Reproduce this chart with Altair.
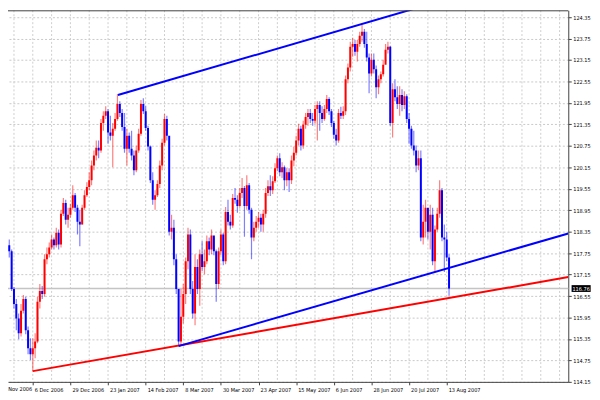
import altair as alt
import pandas as pd

# ---------------- data (daily bars, index = trading day from 14 Nov 2006)
first_bar = 2
first_open = 117.85
close = [
    118.19, 117.91, 118.13, 117.97, 117.80, 116.75, 116.33, 115.92, 115.51, 116.14,
    116.47, 115.59, 115.09, 114.92, 115.09, 115.28, 116.39, 116.69, 116.61, 117.58,
    117.72, 117.91, 118.13, 117.97, 118.32, 117.99, 118.85, 119.15, 118.68, 118.82,
    119.02, 119.37, 119.02, 118.63, 118.55, 119.02, 119.37, 119.60, 119.79, 120.20,
    120.48, 120.70, 120.62, 121.39, 121.59, 121.72, 121.12, 121.03, 121.23, 121.50,
    121.92, 121.67, 121.28, 120.67, 121.03, 120.67, 120.48, 120.07, 120.62, 121.09,
    121.92, 121.72, 121.25, 120.73, 119.79, 119.24, 119.37, 119.68, 120.20, 120.84,
    121.50, 121.03, 118.35, 118.46, 117.58, 116.75, 115.28, 115.97, 116.61, 117.52,
    118.27, 116.75, 116.06, 117.36, 116.75, 117.72, 117.36, 117.52, 118.08, 117.85,
    118.24, 117.80, 116.89, 117.80, 118.27, 117.52, 118.90, 118.63, 118.52, 119.29,
    119.24, 119.07, 119.43, 119.57, 119.07, 119.65, 118.96, 118.19, 118.46, 118.63,
    118.74, 118.55, 118.85, 119.43, 119.62, 119.51, 119.76, 120.12, 120.40, 120.01,
    120.15, 119.79, 120.01, 119.79, 120.34, 120.56, 120.90, 121.23, 120.76, 121.34,
    121.56, 121.67, 121.50, 121.45, 121.78, 121.89, 121.67, 121.50, 121.78, 122.06,
    121.72, 121.39, 121.06, 120.90, 121.67, 121.59, 121.72, 122.61, 122.94, 123.52,
    123.60, 123.38, 123.60, 123.83, 123.94, 123.60, 123.22, 122.77, 123.16, 122.89,
    122.39, 122.61, 122.75, 123.02, 123.44, 123.52, 121.39, 122.33, 122.11, 121.92,
    122.17, 121.89, 122.14, 121.50, 121.23, 120.76, 120.62, 120.20, 120.40, 118.19,
    118.63, 119.02, 118.35, 118.82, 117.52, 118.41, 118.85, 119.51, 118.19, 118.13,
    117.63, 116.76,
]
high = [
    118.46, 118.27, 118.35, 118.24, 118.13, 117.85, 116.80, 116.47, 116.06, 116.33,
    116.58, 116.53, 115.70, 115.37, 115.37, 115.51, 116.53, 116.89, 116.83, 117.72,
    117.91, 118.05, 118.27, 118.19, 118.46, 118.41, 118.96, 119.29, 119.24, 119.02,
    119.13, 119.65, 119.43, 119.10, 118.96, 119.10, 119.51, 119.73, 120.01, 120.34,
    120.62, 120.90, 120.90, 121.50, 121.72, 121.86, 121.78, 121.59, 121.39, 121.67,
    122.19, 122.00, 121.78, 121.67, 121.23, 121.12, 121.17, 120.62, 120.76, 121.23,
    122.03, 122.08, 121.86, 121.31, 120.76, 120.01, 119.51, 119.79, 120.34, 120.95,
    121.64, 121.59, 120.90, 118.82, 118.68, 117.72, 116.75, 116.75, 116.89, 117.63,
    118.46, 118.41, 116.97, 117.72, 117.58, 117.85, 118.08, 117.85, 118.24, 118.19,
    118.41, 118.19, 117.85, 117.91, 118.41, 118.32, 119.04, 119.24, 118.82, 119.40,
    119.57, 119.37, 119.57, 119.85, 119.63, 119.93, 119.71, 119.02, 118.63, 118.79,
    118.90, 118.85, 118.96, 119.57, 119.79, 119.93, 119.90, 120.26, 120.48, 120.54,
    120.29, 120.20, 120.12, 120.12, 120.48, 120.73, 121.03, 121.37, 121.31, 121.45,
    121.67, 121.78, 121.78, 121.67, 121.89, 122.00, 122.00, 121.86, 121.89, 122.17,
    122.11, 121.78, 121.45, 121.23, 121.78, 121.84, 121.86, 122.72, 123.05, 123.66,
    123.77, 123.71, 123.71, 123.94, 124.13, 124.02, 123.94, 123.33, 123.33, 123.33,
    123.00, 122.72, 122.83, 123.16, 123.60, 123.66, 123.55, 122.50, 122.61, 122.42,
    122.42, 122.33, 122.28, 122.19, 121.67, 121.31, 121.17, 120.76, 120.62, 120.62,
    119.10, 119.24, 118.96, 119.10, 119.02, 118.52, 119.02, 119.79, 119.57, 118.55,
    118.35, 117.72,
]
low = [
    117.77, 117.72, 117.85, 117.80, 117.63, 116.69, 116.20, 115.59, 115.34, 115.42,
    116.06, 115.48, 114.92, 114.76, 114.45, 114.81, 115.23, 116.20, 116.47, 116.53,
    117.44, 117.63, 117.85, 117.85, 117.91, 117.85, 117.91, 118.79, 118.55, 118.46,
    118.74, 118.96, 118.90, 118.27, 117.94, 118.55, 118.96, 119.32, 119.51, 119.65,
    120.07, 120.34, 120.40, 120.56, 121.17, 121.50, 120.81, 120.90, 120.15, 121.17,
    121.45, 121.56, 121.17, 120.56, 120.20, 120.56, 120.34, 119.93, 120.01, 120.56,
    121.03, 121.64, 121.17, 120.62, 119.71, 119.10, 118.96, 119.32, 119.57, 120.07,
    120.76, 120.90, 118.24, 118.13, 117.41, 116.61, 115.15, 115.20, 115.78, 116.33,
    117.30, 116.61, 115.92, 115.73, 116.61, 116.28, 117.25, 117.16, 117.44, 117.69,
    117.72, 117.69, 116.39, 116.75, 117.69, 117.41, 117.44, 118.52, 118.41, 118.46,
    119.13, 118.88, 119.02, 119.29, 118.21, 118.96, 118.85, 117.58, 118.08, 118.35,
    118.46, 118.35, 118.35, 118.74, 119.35, 119.35, 119.40, 119.71, 120.04, 119.90,
    119.85, 119.51, 119.62, 119.46, 119.68, 120.18, 120.48, 120.76, 120.62, 120.67,
    121.23, 121.31, 121.39, 121.31, 121.37, 120.90, 121.17, 121.39, 121.45, 121.67,
    121.61, 121.28, 120.95, 120.76, 120.84, 121.50, 121.50, 121.61, 122.50, 122.83,
    123.24, 123.27, 123.11, 123.52, 123.66, 123.49, 123.11, 122.22, 122.69, 122.77,
    122.08, 122.19, 122.50, 122.69, 123.11, 123.33, 121.31, 120.98, 122.00, 121.78,
    121.59, 121.72, 121.78, 121.39, 120.81, 120.67, 120.48, 120.01, 120.07, 118.08,
    117.99, 118.19, 118.13, 117.85, 117.41, 117.25, 118.35, 118.74, 118.08, 117.22,
    117.52, 116.56,
]

date_tick_bars = [0, 16, 32, 48, 64, 80, 96, 112, 128, 144, 160, 176, 192]
date_tick_labels = ["14 Nov 2006", "6 Dec 2006", "29 Dec 2006", "23 Jan 2007", "14 Feb 2007",
                    "8 Mar 2007", "30 Mar 2007", "23 Apr 2007", "15 May 2007", "6 Jun 2007",
                    "28 Jun 2007", "20 Jul 2007", "13 Aug 2007"]
grid_bars = list(range(0, 248, 8))
price_ticks = [114.15, 114.75, 115.35, 115.95, 116.55, 117.15, 117.75, 118.35, 118.95,
               119.55, 120.15, 120.75, 121.35, 121.95, 122.55, 123.15, 123.75, 124.35]
last_price = 116.76

trend_x0 = [16, 78, 52.2]
trend_p0 = [114.45, 115.15, 122.17]
trend_x1 = [243.7, 243.7, 243.7]
trend_p1 = [117.08, 118.30, 125.84]
trend_colors = ["#ff0000", "#0000ff", "#0000ff"]

x_domain = [5.46, 243.7]
y_domain = [114.15, 124.54]

# ---------------- chart
W, H = 567, 376
FONT = "Liberation Sans Narrow, DejaVu Sans Condensed, Liberation Sans"
FS = 5.6
AXC = "#404040"

bars = pd.DataFrame({
    "bar": list(range(first_bar, first_bar + len(close))),
    "close": close, "high": high, "low": low,
})
bars["open"] = [first_open] + close[:-1]
bars["dir"] = ["up" if c >= o else "down" for c, o in zip(bars["close"], bars["open"])]

xs = alt.Scale(domain=x_domain, nice=False, zero=False)
ys = alt.Scale(domain=y_domain, nice=False, zero=False)
cs = alt.Scale(domain=["up", "down"], range=["#ff0000", "#0000ff"])

label_expr = "[" + ",".join("'%s'" % s for s in date_tick_labels) + "][round(datum.value/16)]"

x_axis = alt.Axis(values=date_tick_bars, labelExpr=label_expr, orient="bottom", grid=False,
                  tickSize=3, tickColor=AXC, domainColor=AXC, labelAlign="left",
                  labelBaseline="top", labelPadding=2.5, labelOffset=1.5, labelFontSize=FS,
                  labelFont=FONT, labelColor="black", labelOverlap=False, labelFlush=False,
                  title=None)
y_axis = alt.Axis(values=price_ticks, orient="right", format=".2f", grid=True,
                  gridColor="#c8c8c8", gridDash=[2, 2], gridWidth=1, tickSize=3,
                  tickColor=AXC, domainColor=AXC, labelFontSize=FS, labelFont=FONT,
                  labelColor="black", labelPadding=1.5, labelOverlap=False, labelFlush=False,
                  title=None)


def X(field):
    return alt.X(field, scale=xs, axis=x_axis)


def Y(field):
    return alt.Y(field, scale=ys, axis=y_axis)


vgrid = alt.Chart(pd.DataFrame({"bar": grid_bars})).mark_rule(
    color="#cdcdcd", strokeDash=[2, 2], strokeWidth=1, clip=True
).encode(x=X("bar:Q"), y=alt.value(0), y2=alt.value(H))

pline = alt.Chart(pd.DataFrame({"p": [last_price]})).mark_rule(
    color="#c4c4c4", strokeWidth=1.4
).encode(y=Y("p:Q"), x=alt.value(0), x2=alt.value(W))

wick = alt.Chart(bars).mark_rule(strokeWidth=1.2, opacity=0.5, clip=True).encode(
    x=X("bar:Q"), y=Y("low:Q"), y2="high:Q",
    color=alt.Color("dir:N", scale=cs, legend=None),
)
body = alt.Chart(bars).mark_rule(strokeWidth=2, clip=True).encode(
    x=X("bar:Q"), y=Y("open:Q"), y2="close:Q",
    color=alt.Color("dir:N", scale=cs, legend=None),
)

trends = []
for k in range(len(trend_x0)):
    df = pd.DataFrame({"bar": [trend_x0[k], trend_x1[k]], "p": [trend_p0[k], trend_p1[k]]})
    trends.append(
        alt.Chart(df).mark_line(color=trend_colors[k], strokeWidth=2, clip=True).encode(
            x=X("bar:Q"), y=Y("p:Q")
        )
    )

# first date label lies left of the visible range; as in the reference only its tail shows
first_lbl = alt.Chart(pd.DataFrame({"bar": [date_tick_bars[0]], "t": [date_tick_labels[0]]})).mark_text(
    fontSize=FS, font=FONT, color="black", align="left", baseline="top", dx=5.3
).encode(x=X("bar:Q"), y=alt.value(H + 5.5), text="t:N")

lp = pd.DataFrame({"p": [last_price], "t": ["%.2f" % last_price]})
box = alt.Chart(lp).mark_point(
    shape="M-1.4,-0.5L1.4,-0.5L1.4,0.5L-1.4,0.5Z", size=190, filled=True,
    color="black", opacity=1
).encode(x=alt.value(W + 13), y=Y("p:Q"))
boxtxt = alt.Chart(lp).mark_text(
    color="white", fontSize=FS, font=FONT, align="center", baseline="middle"
).encode(x=alt.value(W + 13), y=Y("p:Q"), text="t:N")

top = alt.Chart(pd.DataFrame({"a": [0]})).mark_rule(color=AXC, strokeWidth=1).encode(
    x=alt.value(0), x2=alt.value(W), y=alt.value(0.5)
)

chart = alt.layer(vgrid, pline, wick, body, *trends, first_lbl, box, boxtxt, top).properties(
    width=W, height=H,
    padding={"left": 0, "top": 0, "right": 24, "bottom": 15},
    autosize=alt.AutoSizeParams(type="none"),
    background="white",
).configure_view(strokeWidth=0)

chart.save("out.html", embed_options={"renderer": "svg", "actions": False})
